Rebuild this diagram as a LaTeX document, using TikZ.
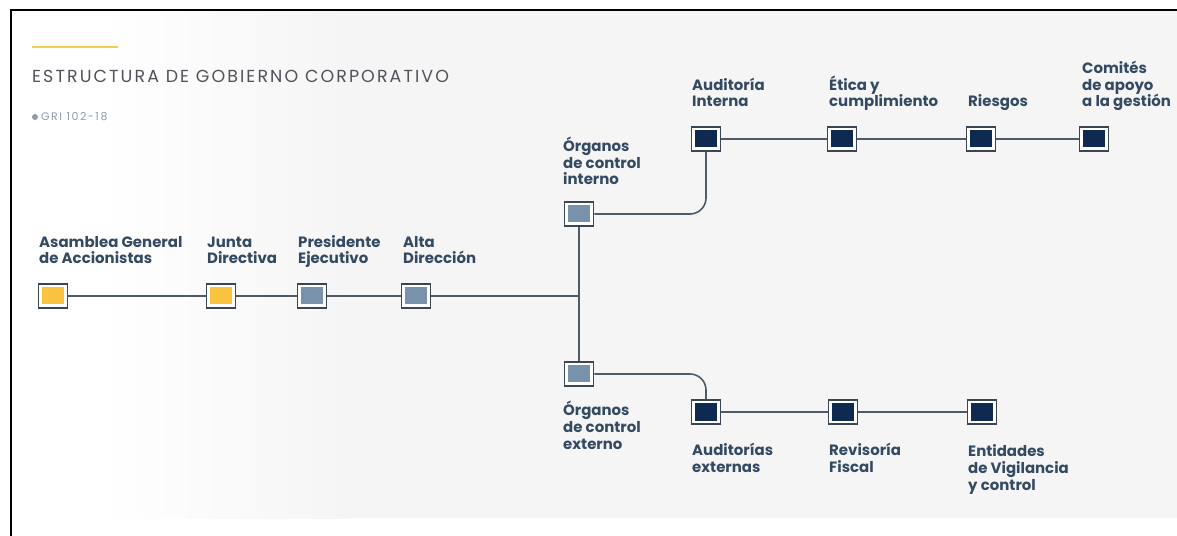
\documentclass[tikz,border=0pt]{standalone}
\usepackage{fontspec}
\setmainfont{Poppins}
\definecolor{bggray}{RGB}{245,245,245}
\definecolor{titlecol}{RGB}{80,84,90}
\definecolor{labcol}{RGB}{52,74,98}
\definecolor{linecol}{RGB}{78,90,104}
\definecolor{edgecol}{RGB}{58,70,84}
\definecolor{gold}{RGB}{248,196,64}
\definecolor{steel}{RGB}{122,145,172}
\definecolor{navy}{RGB}{14,42,80}
\definecolor{accent}{RGB}{242,206,74}
\definecolor{gricol}{RGB}{140,156,176}
\tikzset{
  box/.style={rectangle, minimum width=29bp, minimum height=24bp, inner sep=0pt,
    draw=edgecol, line width=1.5bp, fill=white,
    path picture={\fill[#1] ([shift={(3.5bp,-3.5bp)}]path picture bounding box.north west)
      rectangle ([shift={(-3.5bp,3.5bp)}]path picture bounding box.south east);}},
  lab/.style={anchor=base west, inner sep=0pt, align=left, text=labcol,
    font=\fontsize{15}{17}\selectfont\bfseries},
  link/.style={draw=linecol, line width=1.6bp},
}
\begin{document}
\begin{tikzpicture}[x=1bp,y=-1bp]
\useasboundingbox (0,0) rectangle (1177,536);
% page background with the grey panel
\fill[white] (0,0) rectangle (1177,536);
\shade[left color=white,right color=bggray] (100,11) rectangle (350,518);
\fill[bggray] (350,11) rectangle (1177,518);
\draw[black,line width=2bp] (11,536) -- (11,10) -- (1177,10);

% heading
\draw[accent,line width=2.2bp] (32,47) -- (118,47);
\node[anchor=base west, inner sep=0pt, text=titlecol,
  font=\fontsize{17.5}{20}\selectfont\addfontfeatures{LetterSpace=12}] (title) at (32,83) {ESTRUCTURA DE GOBIERNO CORPORATIVO};
\fill[gricol] (35,117) circle (3bp);
\node[anchor=west, inner sep=0pt, text=gricol,
  font=\fontsize{11}{13}\selectfont\addfontfeatures{LetterSpace=14}] (gri) at (41,117) {GRI 102-18};

% boxes
\node[box=gold]  (asamblea)   at (53,296)  {};
\node[box=gold]  (junta)      at (221,296) {};
\node[box=steel] (presidente) at (312,296) {};
\node[box=steel] (alta)       at (416,296) {};
\node[box=steel] (ointerno)   at (579,214) {};
\node[box=steel] (oexterno)   at (579,374) {};
\node[box=navy]  (audint)     at (706,139) {};
\node[box=navy]  (etica)      at (842,139) {};
\node[box=navy]  (riesgos)    at (981,139) {};
\node[box=navy]  (comites)    at (1094,139) {};
\node[box=navy]  (audext)     at (706,412) {};
\node[box=navy]  (revisoria)  at (843,412) {};
\node[box=navy]  (entidades)  at (982,412) {};
\coordinate (hub) at (579,296);

% connectors
\draw[link] (asamblea) -- (junta);
\draw[link] (junta) -- (presidente);
\draw[link] (presidente) -- (alta);
\draw[link] (alta) -- (hub);
\draw[link] (ointerno) -- (oexterno);
\draw[link,rounded corners=16bp] (ointerno.east) -| (audint.south);
\draw[link,rounded corners=16bp] (oexterno.east) -| (audext.north);
\draw[link] (audint) -- (etica);
\draw[link] (etica) -- (riesgos);
\draw[link] (riesgos) -- (comites);
\draw[link] (audext) -- (revisoria);
\draw[link] (revisoria) -- (entidades);

% labels (placed by the baseline of their last line)
\node[lab] (l-asamblea)   at (39,264)  {Asamblea General\\de Accionistas};
\node[lab] (l-junta)      at (207,264) {Junta\\Directiva};
\node[lab] (l-presidente) at (298,264) {Presidente\\Ejecutivo};
\node[lab] (l-alta)       at (403,264) {Alta\\Dirección};
\node[lab] (l-ointerno)   at (563,185) {Órganos\\de control\\interno};
\node[lab] (l-audint)     at (692,107) {Auditoría\\Interna};
\node[lab] (l-etica)      at (829,107) {Ética y\\cumplimiento};
\node[lab] (l-riesgos)    at (968,107) {Riesgos};
\node[lab] (l-comites)    at (1082,107) {Comités\\de apoyo\\a la gestión};
\node[lab] (l-oexterno)   at (563,449) {Órganos\\de control\\externo};
\node[lab] (l-audext)     at (692,472) {Auditorías\\externas};
\node[lab] (l-revisoria)  at (829,472) {Revisoría\\Fiscal};
\node[lab] (l-entidades)  at (968,490) {Entidades\\de Vigilancia\\y control};
\end{tikzpicture}
\end{document}
